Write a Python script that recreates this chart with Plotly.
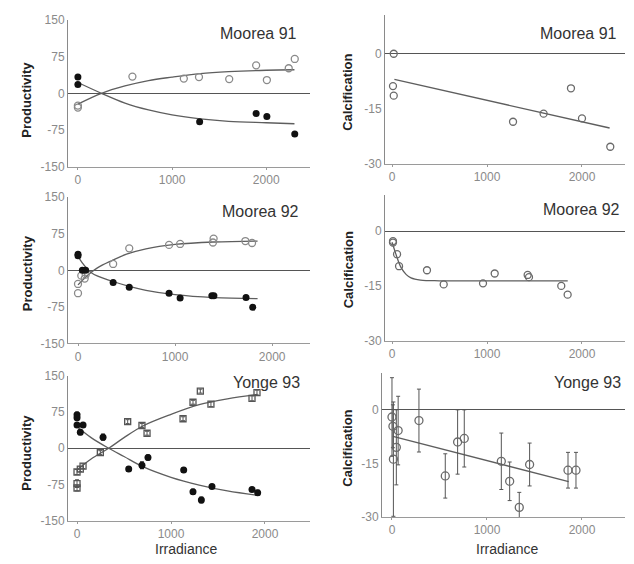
import plotly.graph_objects as go

W, H = 634, 564

# ---------------- Data ----------------
# Moorea 91 productivity
m91_open_x = [0, 0, 579, 1125, 1286, 1607, 1893, 2007, 2239, 2303]
m91_open_y = [-25, -29, 34, 30, 33, 29, 57, 27, 51, 70]
m91_fill_x = [0, 0, 1293, 1893, 2007, 2303]
m91_fill_y = [33, 18, -58, -41, -47, -83]
m91_open_fit_x = [0, 250, 500, 750, 1000, 1300, 1600, 2000, 2300]
m91_open_fit_y = [-22, 0, 15, 26, 33, 40, 44, 47, 48]
m91_fill_fit_x = [0, 250, 500, 750, 1000, 1300, 1600, 2000, 2300]
m91_fill_fit_y = [22, 0, -20, -34, -44, -52, -57, -60, -62]

# Moorea 91 calcification
c91_x = [18, 10, 18, 1274, 1596, 1884, 2000, 2298]
c91_y = [0, -8.8, -11.4, -18.5, -16.3, -9.4, -17.6, -25.3]
c91_fit_x = [25, 2291]
c91_fit_y = [-7.0, -20.2]

# Moorea 92 productivity
m92_open_x = [0, 0, 34, 69, 79, 362, 528, 938, 1052, 1390, 1397, 1724, 1793]
m92_open_y = [-47, -28, -11, -17, -9, 13, 45, 52, 54, 57, 65, 60, 56]
m92_fill_x = [0, 0, 45, 79, 362, 528, 938, 1052, 1379, 1400, 1731, 1800]
m92_fill_y = [33, 30, 0, 0, -25, -35, -47, -57, -52, -52, -56, -76]
m92_open_fit_x = [0, 100, 200, 350, 500, 700, 1000, 1400, 1850]
m92_open_fit_y = [-30, -10, 5, 20, 33, 44, 53, 58, 60]
m92_fill_fit_x = [0, 138, 362, 528, 700, 1000, 1400, 1850]
m92_fill_fit_y = [28, -5, -23, -33, -41, -50, -56, -58]

# Moorea 92 calcification
c92_x = [10, 10, 53, 74, 368, 544, 958, 1081, 1428, 1442, 1782, 1849]
c92_y = [-2.7, -3.1, -6.3, -9.6, -10.7, -14.6, -14.3, -11.6, -12.0, -12.6, -15.0, -17.4]
c92_fit_x = [0, 25, 50, 75, 100, 150, 200, 300, 500, 1000, 1850]
c92_fit_y = [-3, -5, -7, -8.8, -10.2, -11.9, -12.8, -13.4, -13.6, -13.6, -13.6]

# Yonge 93 productivity
y93_open_x = [0, 0, 0, 35, 64, 248, 539, 691, 745, 1128, 1234, 1312, 1425, 1862, 1915]
y93_open_y = [-73, -82, -49, -43, -37, -9, 55, 47, 31, 61, 95, 118, 91, 103, 115]
y93_open_err = [8, 6, 5, 5, 5, 4, 4, 4, 4, 4, 4, 4, 5, 5, 5]
y93_fill_x = [0, 0, 0, 35, 64, 277, 550, 691, 755, 1135, 1234, 1323, 1436, 1862, 1922]
y93_fill_y = [69, 63, 48, 33, 48, 23, -43, -35, -19, -45, -90, -107, -79, -85, -92]
y93_fill_err = [5, 5, 5, 5, 5, 6, 5, 7, 5, 5, 5, 6, 4, 4, 5]
y93_open_fit_x = [0, 150, 337, 500, 700, 1000, 1300, 1600, 1920]
y93_open_fit_y = [-45, -22, 0, 22, 46, 70, 90, 102, 111]
y93_fill_fit_x = [0, 150, 337, 500, 700, 1000, 1300, 1600, 1920]
y93_fill_fit_y = [45, 22, 0, -17, -38, -60, -76, -88, -97]

# Yonge 93 calcification
c93_x = [0, 10, 15, 46, 65, 284, 561, 691, 761, 1151, 1239, 1340, 1449, 1853, 1937]
c93_y = [-2, -4.6, -13.8, -10.5, -5.8, -3.0, -18.5, -9, -8, -14.4, -20, -27.3, -15.3, -16.9, -16.9]
c93_err = [11, 6, 16, 10.5, 9.6, 8.8, 6.2, 9, 8, 7.9, 5.4, 4.2, 6, 5, 5]
c93_fit_x = [10, 1860]
c93_fit_y = [-7.4, -20.1]

prod_ticks = [150, 75, 0, -75, -150]
prod_ticktext = ["150", "75", "0", "-75", "-150"]
calc_ticks = [0, -15, -30]
calc_ticktext = ["0", "-15", "-30"]
x_ticks = [0, 1000, 2000]
x_ticktext = ["0", "1000", "2000"]

panel_titles = ["Moorea 91", "Moorea 91", "Moorea 92", "Moorea 92", "Yonge 93", "Yonge 93"]

# ---------------- Figure ----------------
fig = go.Figure()

FILL = "#111111"
OPEN = "#8a8a8a"
LINE = "#5e5e5e"

def px_dom(a, b):
    return [a / W, b / W]

def py_dom(top, bot):
    return [1 - bot / H, 1 - top / H]

panels = [
    ("x", "y", px_dom(68, 310), py_dom(13, 164), [-105, 2465], [-150, 150], "p"),
    ("x2", "y2", px_dom(385, 625), py_dom(8, 161), [-74, 2453], [-30, 10.6], "c"),
    ("x3", "y3", px_dom(68, 310), py_dom(195, 345), [-103, 2390], [-150, 150], "p"),
    ("x4", "y4", px_dom(385, 625), py_dom(193, 342), [-74, 2453], [-30, 9.9], "c"),
    ("x5", "y5", px_dom(68, 310), py_dom(378, 527), [-96, 2479], [-150, 150], "p"),
    ("x6", "y6", px_dom(382, 625), py_dom(375, 523), [-105, 2453], [-30, 10.4], "c"),
]

tickfont = dict(family="Liberation Sans, Arial, sans-serif", size=12, color="#8a8a8a")

for i, (xa, ya, xd, yd, xr, yr, kind) in enumerate(panels):
    xkey = "xaxis" if xa == "x" else "xaxis" + xa[1:]
    ykey = "yaxis" if ya == "y" else "yaxis" + ya[1:]
    fig.layout[xkey] = dict(
        domain=xd, range=xr, anchor=ya, showgrid=False, zeroline=False,
        showline=True, linecolor="#9a9a9a", linewidth=1,
        tickvals=x_ticks, ticktext=x_ticktext, ticks="outside", ticklen=2,
        tickcolor="#9a9a9a", tickfont=tickfont,
    )
    fig.layout[ykey] = dict(
        domain=yd, range=yr, anchor=xa, showgrid=False,
        zeroline=True, zerolinecolor="#555555", zerolinewidth=1,
        showline=True, linecolor="#8a8a8a", linewidth=1,
        tickvals=prod_ticks if kind == "p" else calc_ticks,
        ticktext=prod_ticktext if kind == "p" else calc_ticktext,
        ticks="", tickfont=tickfont,
    )

def line(x, y, xa, ya, shape="spline"):
    fig.add_trace(go.Scatter(x=x, y=y, mode="lines", xaxis=xa, yaxis=ya,
                             line=dict(color=LINE, width=1.3, shape=shape, smoothing=1.0),
                             showlegend=False, hoverinfo="skip"))

def open_pts(x, y, xa, ya, symbol="circle-open", err=None, size=7, color=OPEN):
    kw = {}
    if err is not None:
        kw["error_y"] = dict(type="data", array=err, visible=True, color="#555555",
                             thickness=1, width=2)
    fig.add_trace(go.Scatter(x=x, y=y, mode="markers", xaxis=xa, yaxis=ya,
                             marker=dict(symbol=symbol, size=size,
                                         color=color, line=dict(color=color, width=1.3)),
                             showlegend=False, **kw))

def fill_pts(x, y, xa, ya, err=None, size=7):
    kw = {}
    if err is not None:
        kw["error_y"] = dict(type="data", array=err, visible=True, color="#222222",
                             thickness=1.2, width=2)
    fig.add_trace(go.Scatter(x=x, y=y, mode="markers", xaxis=xa, yaxis=ya,
                             marker=dict(symbol="circle", size=size, color=FILL),
                             showlegend=False, **kw))

# Panel 1
line(m91_open_fit_x, m91_open_fit_y, "x", "y")
line(m91_fill_fit_x, m91_fill_fit_y, "x", "y")
open_pts(m91_open_x, m91_open_y, "x", "y")
fill_pts(m91_fill_x, m91_fill_y, "x", "y")

# Panel 2
line(c91_fit_x, c91_fit_y, "x2", "y2", shape="linear")
open_pts(c91_x, c91_y, "x2", "y2", color="#6a6a6a")

# Panel 3
line(m92_open_fit_x, m92_open_fit_y, "x3", "y3")
line(m92_fill_fit_x, m92_fill_fit_y, "x3", "y3")
open_pts(m92_open_x, m92_open_y, "x3", "y3")
fill_pts(m92_fill_x, m92_fill_y, "x3", "y3")

# Panel 4
line(c92_fit_x, c92_fit_y, "x4", "y4")
open_pts(c92_x, c92_y, "x4", "y4", color="#6a6a6a")

# Panel 5
line(y93_open_fit_x, y93_open_fit_y, "x5", "y5")
line(y93_fill_fit_x, y93_fill_fit_y, "x5", "y5")
open_pts(y93_open_x, y93_open_y, "x5", "y5", symbol="square-open", err=y93_open_err,
         size=6, color="#555555")
fill_pts(y93_fill_x, y93_fill_y, "x5", "y5", err=y93_fill_err)

# Panel 6
line(c93_fit_x, c93_fit_y, "x6", "y6", shape="linear")
open_pts(c93_x, c93_y, "x6", "y6", err=c93_err, size=8, color="#6a6a6a")

# ---------------- Annotations ----------------
ann_font = dict(family="Liberation Sans, Arial, sans-serif", size=16, color="#333333")
title_pos = [(258, 27), (578, 27), (260, 210), (581, 208), (266, 385), (587, 385)]
for t, (cx, cy) in zip(panel_titles, title_pos):
    fig.add_annotation(text=t, x=cx / W, y=1 - cy / H, xref="paper", yref="paper",
                       showarrow=False, font=ann_font, xanchor="center", yanchor="middle")

lab_font = dict(family="Liberation Sans, Arial, sans-serif", size=13, color="#222222")
for cy in [95, 273, 457]:
    fig.add_annotation(text="<b>Productivity</b>", x=27 / W, y=1 - cy / H, xref="paper",
                       yref="paper", showarrow=False, textangle=-90, font=lab_font,
                       xanchor="center", yanchor="middle")
for cy in [88, 270, 453]:
    fig.add_annotation(text="<b>Calcification</b>", x=348 / W, y=1 - cy / H, xref="paper",
                       yref="paper", showarrow=False, textangle=-90, font=lab_font,
                       xanchor="center", yanchor="middle")
irr_font = dict(family="Liberation Sans, Arial, sans-serif", size=14, color="#333333")
for cx in [186, 507]:
    fig.add_annotation(text="Irradiance", x=cx / W, y=1 - 556 / H, xref="paper",
                       yref="paper", showarrow=False, font=irr_font,
                       xanchor="center", yanchor="middle")

fig.update_layout(width=W, height=H, margin=dict(l=0, r=0, t=0, b=0),
                  paper_bgcolor="white", plot_bgcolor="white", showlegend=False)

fig.write_html("out.html")
